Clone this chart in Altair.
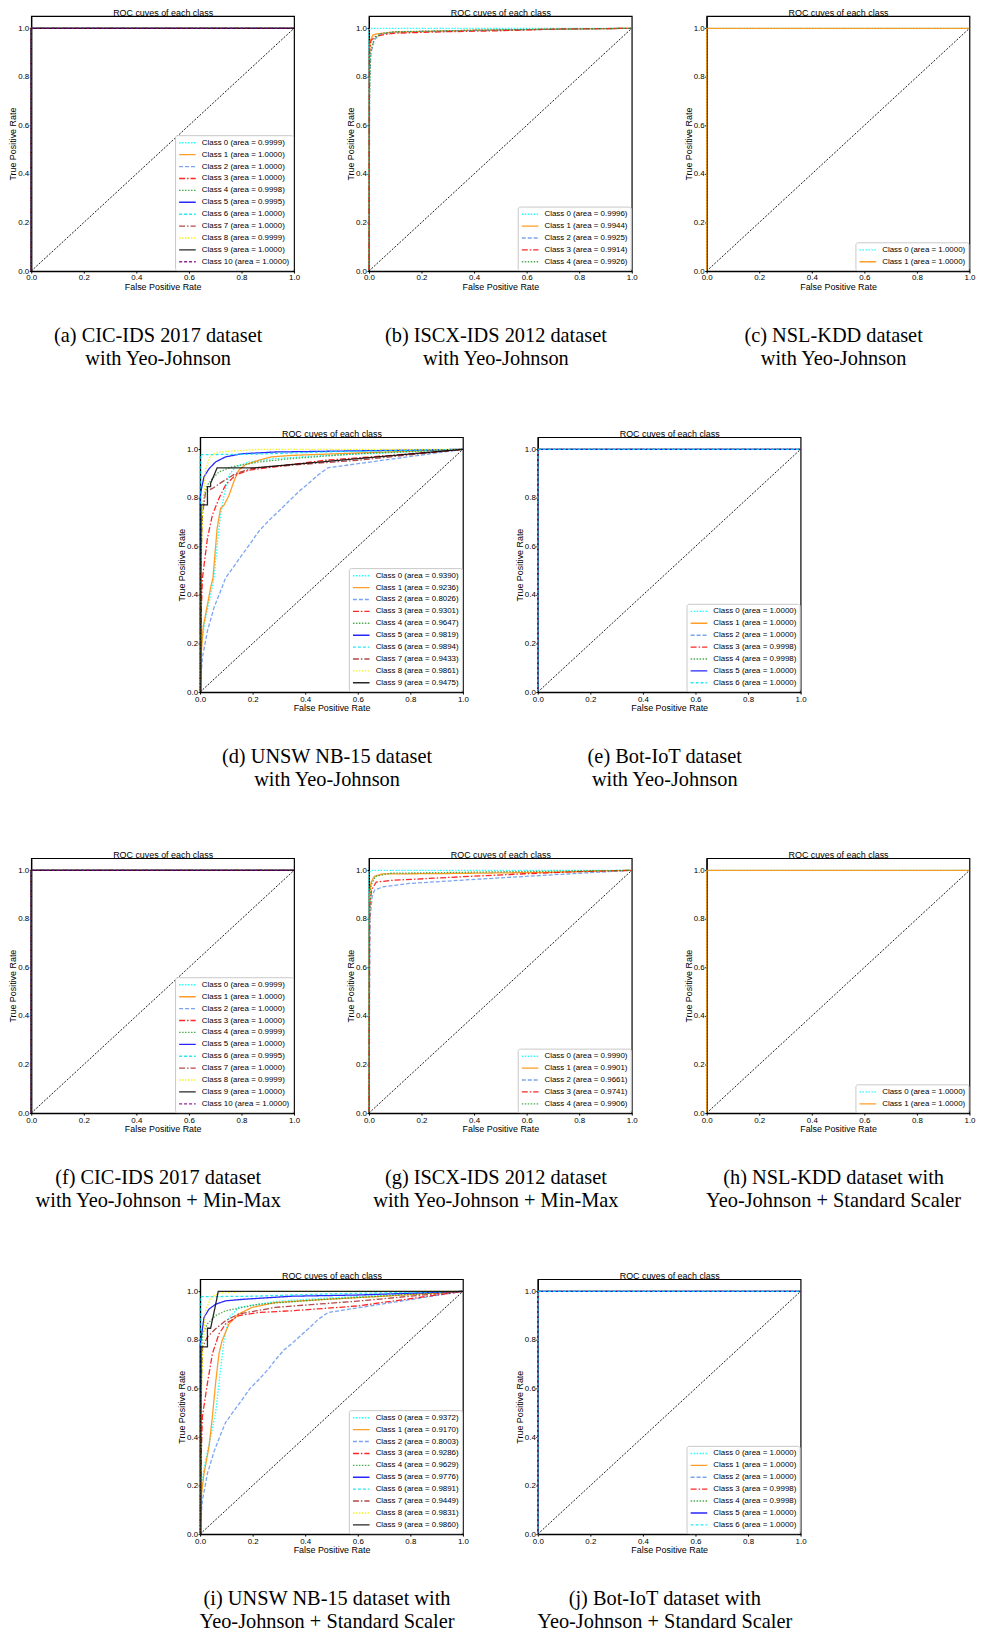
import altair as alt
import pandas as pd

# ---------------- style lists (per class index) ----------------
COLORS = ["#00ffff", "#ff8c00", "#6495ed", "#ff0000", "#2e9e2e", "#0000ff",
          "#00e5ee", "#a52a2a", "#f0f000", "#000000", "#800080"]
DASHES = [[1.5, 1.5], [1, 0], [4, 2], [6, 2, 1.5, 2], [1.5, 1.5], [1, 0],
          [3, 2], [6, 2, 1.5, 2], [1.5, 1.5], [1, 0], [3, 2]]
TICKS = [0.0, 0.2, 0.4, 0.6, 0.8, 1.0]

# ---------------- data ----------------
P = [(0, 0), (0, 1), (1, 1)]                       # perfect curve
P9999 = [(0, 0), (0, 0.999), (0.001, 1), (1, 1)]
P9998 = [(0, 0), (0, 0.998), (0.002, 1), (1, 1)]
P9995 = [(0, 0), (0, 0.995), (0.003, 1), (1, 1)]
BOT3 = [(0, 0), (0, 0.99), (0.003, 0.998), (0.01, 1), (1, 1)]

# (a) CIC-IDS 2017, Yeo-Johnson
CIC_YJ_AUC = [0.9999, 1.0000, 1.0000, 1.0000, 0.9998, 0.9995, 1.0000, 1.0000, 0.9999, 1.0000, 1.0000]
CIC_YJ_CURVES = [P9999, P, P, P, P9998, P9995, P, P, P9999, P, P]

# (b) ISCX-IDS 2012, Yeo-Johnson
ISCX_YJ_AUC = [0.9996, 0.9944, 0.9925, 0.9914, 0.9926]
ISCX_YJ_CURVES = [
    [(0, 0), (0, 0.99), (0.004, 1.0), (1, 1)],
    [(0, 0), (0.002, 0.9), (0.005, 0.95), (0.015, 0.972), (0.029, 0.977), (0.092, 0.984), (0.4, 0.992), (1, 1)],
    [(0, 0), (0.003, 0.8), (0.008, 0.9), (0.02, 0.95), (0.04, 0.975), (0.1, 0.985), (0.5, 0.993), (1, 1)],
    [(0, 0), (0.002, 0.9), (0.008, 0.95), (0.023, 0.966), (0.06, 0.975), (0.1, 0.98), (0.3, 0.986),
     (0.5, 0.99), (0.72, 0.997), (1, 1)],
    [(0, 0), (0.002, 0.7), (0.006, 0.9), (0.02, 0.96), (0.05, 0.98), (0.1, 0.986), (0.5, 0.994), (1, 1)],
]

# (c) NSL-KDD, Yeo-Johnson
NSL_YJ_AUC = [1.0000, 1.0000]
NSL_YJ_CURVES = [P, P]

# (d) UNSW NB-15, Yeo-Johnson
UNSW_YJ_AUC = [0.9390, 0.9236, 0.8026, 0.9301, 0.9647, 0.9819, 0.9894, 0.9433, 0.9861, 0.9475]
UNSW_YJ_CURVES = [
    [(0, 0), (0.002, 0.18), (0.02, 0.3), (0.04, 0.4), (0.053, 0.47), (0.065, 0.607), (0.078, 0.73),
     (0.091, 0.81), (0.11, 0.894), (0.135, 0.928), (0.185, 0.948), (0.286, 0.962), (0.475, 0.975),
     (0.727, 0.986), (1, 1)],
    [(0, 0), (0.004, 0.15), (0.012, 0.27), (0.028, 0.36), (0.04, 0.43), (0.049, 0.47), (0.065, 0.675),
     (0.078, 0.757), (0.091, 0.77), (0.11, 0.81), (0.128, 0.866), (0.147, 0.914), (0.173, 0.937),
     (0.223, 0.955), (0.273, 0.969), (0.349, 0.975), (0.6, 0.985), (1, 1)],
    [(0, 0), (0.004, 0.08), (0.009, 0.143), (0.028, 0.252), (0.053, 0.348), (0.078, 0.416), (0.097, 0.47),
     (0.13, 0.52), (0.16, 0.566), (0.19, 0.61), (0.223, 0.662), (0.26, 0.705), (0.298, 0.744),
     (0.349, 0.798), (0.38, 0.83), (0.412, 0.859), (0.45, 0.895), (0.487, 0.924), (1, 1)],
    [(0, 0), (0.002, 0.2), (0.005, 0.35), (0.009, 0.47), (0.028, 0.634), (0.047, 0.73), (0.072, 0.798),
     (0.097, 0.853), (0.135, 0.894), (0.185, 0.914), (0.286, 0.928), (0.475, 0.955), (0.727, 0.975), (1, 1)],
    [(0, 0), (0.002, 0.6), (0.003, 0.675), (0.015, 0.81), (0.028, 0.853), (0.047, 0.88), (0.072, 0.907),
     (0.122, 0.928), (0.223, 0.948), (0.349, 0.962), (0.6, 0.982), (1, 1)],
    [(0, 0), (0, 0.8), (0.003, 0.825), (0.015, 0.887), (0.034, 0.92), (0.059, 0.948), (0.097, 0.969),
     (0.16, 0.982), (0.286, 0.989), (1, 1)],
    [(0, 0), (0, 0.978), (0.2, 0.98), (0.5, 0.99), (1, 1)],
    [(0, 0), (0.002, 0.5), (0.009, 0.73), (0.021, 0.825), (0.047, 0.839), (0.084, 0.866), (0.135, 0.9),
     (0.198, 0.921), (0.349, 0.935), (0.6, 0.955), (1, 1)],
    [(0, 0), (0.003, 0.5), (0.01, 0.75), (0.021, 0.92), (0.04, 0.975), (0.072, 0.989), (0.223, 1.0), (1, 1)],
    [(0, 0), (0.003, 0), (0.003, 0.771), (0.028, 0.771), (0.028, 0.846), (0.04, 0.846), (0.04, 0.86),
     (0.065, 0.924), (0.21, 0.924), (1, 1)],
]

# (e) Bot-IoT, Yeo-Johnson
BOT_YJ_AUC = [1.0000, 1.0000, 1.0000, 0.9998, 0.9998, 1.0000, 1.0000]
BOT_YJ_CURVES = [P, P, P, BOT3, P9998, P, P]

# (f) CIC-IDS 2017, Yeo-Johnson + Min-Max
CIC_MM_AUC = [0.9999, 1.0000, 1.0000, 1.0000, 0.9999, 1.0000, 0.9995, 1.0000, 0.9999, 1.0000, 1.0000]
CIC_MM_CURVES = [P9999, P, P, P, P9999, P, P9995, P, P9999, P, P]

# (g) ISCX-IDS 2012, Yeo-Johnson + Min-Max
ISCX_MM_AUC = [0.9990, 0.9901, 0.9661, 0.9741, 0.9906]
ISCX_MM_CURVES = [
    [(0, 0), (0, 0.99), (0.01, 1.0), (1, 1)],
    [(0, 0), (0.002, 0.9), (0.008, 0.95), (0.02, 0.975), (0.05, 0.985), (0.3, 0.987), (0.7, 0.992), (1, 1)],
    [(0, 0), (0.004, 0.8), (0.012, 0.89), (0.021, 0.918), (0.053, 0.932), (0.154, 0.946), (0.343, 0.959),
     (0.594, 0.975), (0.8, 0.988), (1, 1)],
    [(0, 0), (0.003, 0.85), (0.01, 0.92), (0.028, 0.952), (0.091, 0.959), (0.343, 0.973), (0.594, 0.986),
     (0.8, 0.995), (1, 1)],
    [(0, 0), (0.002, 0.8), (0.008, 0.94), (0.025, 0.975), (0.08, 0.988), (0.5, 0.994), (1, 1)],
]

# (h) NSL-KDD, Yeo-Johnson + Standard Scaler
NSL_SS_AUC = [1.0000, 1.0000]
NSL_SS_CURVES = [P, P]

# (i) UNSW NB-15, Yeo-Johnson + Standard Scaler
UNSW_SS_AUC = [0.9372, 0.9170, 0.8003, 0.9286, 0.9629, 0.9776, 0.9891, 0.9449, 0.9831, 0.9860]
UNSW_SS_CURVES = [
    [(0, 0), (0.002, 0.18), (0.02, 0.3), (0.04, 0.4), (0.059, 0.5), (0.072, 0.622), (0.091, 0.798),
     (0.11, 0.893), (0.147, 0.934), (0.286, 0.958), (0.475, 0.972), (0.727, 0.985), (1, 1)],
    [(0, 0), (0.004, 0.15), (0.015, 0.25), (0.034, 0.36), (0.047, 0.486), (0.059, 0.622), (0.072, 0.744),
     (0.084, 0.798), (0.11, 0.866), (0.147, 0.907), (0.198, 0.934), (0.286, 0.954), (0.475, 0.967),
     (0.7, 0.98), (1, 1)],
    [(0, 0), (0.004, 0.08), (0.009, 0.14), (0.028, 0.25), (0.053, 0.34), (0.078, 0.41), (0.097, 0.46),
     (0.13, 0.51), (0.16, 0.554), (0.19, 0.6), (0.223, 0.636), (0.26, 0.68), (0.286, 0.717), (0.32, 0.76),
     (0.349, 0.785), (0.412, 0.846), (0.45, 0.885), (0.487, 0.913), (1, 1)],
    [(0, 0), (0.002, 0.2), (0.005, 0.35), (0.009, 0.486), (0.028, 0.622), (0.047, 0.744), (0.072, 0.825),
     (0.097, 0.866), (0.147, 0.9), (0.223, 0.913), (0.349, 0.92), (0.6, 0.94), (1, 1)],
    [(0, 0), (0.002, 0.6), (0.009, 0.825), (0.028, 0.866), (0.059, 0.9), (0.097, 0.92), (0.223, 0.947),
     (0.475, 0.967), (1, 1)],
    [(0, 0), (0, 0.78), (0.003, 0.8), (0.015, 0.893), (0.034, 0.927), (0.059, 0.947), (0.097, 0.961),
     (0.16, 0.967), (0.349, 0.98), (0.6, 0.985), (1, 1)],
    [(0, 0), (0, 0.978), (0.2, 0.98), (0.5, 0.99), (1, 1)],
    [(0, 0), (0.002, 0.5), (0.009, 0.771), (0.028, 0.812), (0.059, 0.846), (0.097, 0.879), (0.147, 0.907),
     (0.286, 0.934), (0.6, 0.96), (1, 1)],
    [(0, 0), (0.003, 0.5), (0.01, 0.75), (0.021, 0.92), (0.04, 0.974), (0.072, 0.993), (0.2, 1.0), (1, 1)],
    [(0, 0), (0.003, 0), (0.003, 0.771), (0.028, 0.771), (0.028, 0.848), (0.04, 0.848), (0.06, 0.95),
     (0.069, 1.0), (1, 1)],
]

# (j) Bot-IoT, Yeo-Johnson + Standard Scaler
BOT_SS_AUC = [1.0000, 1.0000, 1.0000, 0.9998, 0.9998, 1.0000, 1.0000]
BOT_SS_CURVES = [P, P, P, BOT3, P9998, P, P]

CAPTIONS = {
    "a": ["(a) CIC-IDS 2017 dataset", "with Yeo-Johnson"],
    "b": ["(b) ISCX-IDS 2012 dataset", "with Yeo-Johnson"],
    "c": ["(c) NSL-KDD dataset", "with Yeo-Johnson"],
    "d": ["(d) UNSW NB-15 dataset", "with Yeo-Johnson"],
    "e": ["(e) Bot-IoT dataset", "with Yeo-Johnson"],
    "f": ["(f) CIC-IDS 2017 dataset", "with Yeo-Johnson + Min-Max"],
    "g": ["(g) ISCX-IDS 2012 dataset", "with Yeo-Johnson + Min-Max"],
    "h": ["(h) NSL-KDD dataset with", "Yeo-Johnson + Standard Scaler"],
    "i": ["(i) UNSW NB-15 dataset with", "Yeo-Johnson + Standard Scaler"],
    "j": ["(j) Bot-IoT dataset with", "Yeo-Johnson + Standard Scaler"],
}

PLOT_TITLE = "ROC cuves of each class"
W, H = 265, 257
HSPACE = 44.5
VSPACE = 58.5
SANS = "Liberation Sans"
SERIF = "Liberation Serif"


def indep(ch):
    return ch.resolve_scale(color="independent", strokeDash="independent")


def panel(curves, aucs, caption):
    labels = [f"Class {i} (area = {a:.4f})" for i, a in enumerate(aucs)]
    n = len(labels)
    rows = []
    for ci, pts in enumerate(curves):
        for k, (fx, ty) in enumerate(pts):
            rows.append({"fpr": fx, "tpr": ty, "cls": labels[ci], "ord": k})
    df = pd.DataFrame(rows)
    diag = pd.DataFrame({"fpr": [0.0, 1.0], "tpr": [0.0, 1.0], "ord": [0, 1]})

    xsc = alt.Scale(domain=[0, 1], nice=False, zero=False)
    ysc = alt.Scale(domain=[0, 1.05], nice=False, zero=False)
    y = alt.Y("tpr:Q", scale=ysc,
              axis=alt.Axis(title="True Positive Rate", values=TICKS, format=".1f"))
    leg = alt.Legend(title=None, orient="bottom-right", offset=1, symbolType="stroke",
                     symbolSize=280, clipHeight=9.3, rowPadding=2, labelFontSize=8,
                     labelFont=SANS, labelColor="black", labelOffset=5, padding=3,
                     strokeColor="#c8c8c8", fillColor="white", cornerRadius=2,
                     symbolStrokeWidth=1.4, labelLimit=200)
    lines = alt.Chart(df).mark_line(strokeWidth=1.3, opacity=0.85).encode(
        x=alt.X("fpr:Q", scale=xsc,
                axis=alt.Axis(title="False Positive Rate", values=TICKS, format=".1f")),
        y=y,
        color=alt.Color("cls:N", scale=alt.Scale(domain=labels, range=COLORS[:n]), legend=leg),
        strokeDash=alt.StrokeDash("cls:N", scale=alt.Scale(domain=labels, range=DASHES[:n]), legend=leg),
        order="ord:Q",
    )
    # chance diagonal; its (top) x axis carries the panel heading
    ref = alt.Chart(diag).mark_line(color="black", strokeDash=[2, 1.5], strokeWidth=0.9).encode(
        x=alt.X("fpr:Q", scale=xsc,
                axis=alt.Axis(orient="top", title=PLOT_TITLE, labels=False, ticks=False,
                              domain=False, titlePadding=-1, titleFontSize=9)),
        y=y,
        order="ord:Q",
    )
    layer = alt.layer(lines, ref).resolve_axis(x="independent").properties(
        width=W, height=H,
        title=alt.TitleParams(caption, orient="bottom", anchor="middle", font=SERIF,
                              fontSize=20.5, fontWeight="normal", color="black",
                              lineHeight=23, offset=34.5, dx=-4.5),
    )
    return layer


pa = panel(CIC_YJ_CURVES, CIC_YJ_AUC, CAPTIONS["a"])
pb = panel(ISCX_YJ_CURVES, ISCX_YJ_AUC, CAPTIONS["b"])
pc = panel(NSL_YJ_CURVES, NSL_YJ_AUC, CAPTIONS["c"])
pd_ = panel(UNSW_YJ_CURVES, UNSW_YJ_AUC, CAPTIONS["d"])
pe = panel(BOT_YJ_CURVES, BOT_YJ_AUC, CAPTIONS["e"])
pf = panel(CIC_MM_CURVES, CIC_MM_AUC, CAPTIONS["f"])
pg = panel(ISCX_MM_CURVES, ISCX_MM_AUC, CAPTIONS["g"])
ph = panel(NSL_SS_CURVES, NSL_SS_AUC, CAPTIONS["h"])
pi = panel(UNSW_SS_CURVES, UNSW_SS_AUC, CAPTIONS["i"])
pj = panel(BOT_SS_CURVES, BOT_SS_AUC, CAPTIONS["j"])

row1 = indep(alt.hconcat(pa, pb, pc, spacing=HSPACE))
row2 = indep(alt.hconcat(pd_, pe, spacing=HSPACE))
row3 = indep(alt.hconcat(pf, pg, ph, spacing=HSPACE))
row4 = indep(alt.hconcat(pi, pj, spacing=HSPACE))

chart = indep(alt.vconcat(row1, row2, row3, row4, spacing=VSPACE, center=True,
                          padding={"top": -7.5, "bottom": -2, "left": 0, "right": 0}))
chart = chart.configure_view(stroke="black", strokeWidth=1.2).configure_axis(
    grid=False, labelFont=SANS, labelFontSize=8, labelColor="black",
    titleFont=SANS, titleFontSize=9, titleFontWeight="normal", titleColor="black",
    domainColor="black", domainWidth=1.2, tickColor="black", tickSize=2,
    labelFlush=False,
).configure_axisX(labelPadding=1, titlePadding=1).configure_axisY(labelPadding=0.5, titlePadding=0)

chart.save("out.html", embed_options={"renderer": "svg", "actions": False})
